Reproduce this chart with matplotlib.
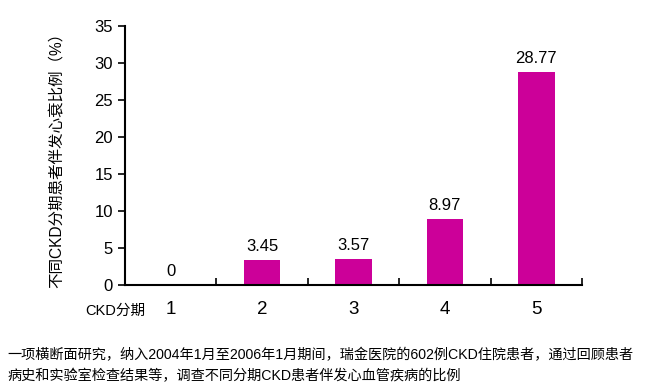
import numpy as np
import matplotlib.pyplot as plt

plt.rcParams['font.family'] = ['Liberation Sans', 'Noto Sans CJK SC', 'DejaVu Sans']

# 数据
stages = ['1', '2', '3', '4', '5']
ratio = [0, 3.45, 3.57, 8.97, 28.77]
value_labels = ['0', '3.45', '3.57', '8.97', '28.77']

fig = plt.figure(figsize=(6.54, 3.9), dpi=100)
ax = fig.add_axes([0.191, 0.269, 0.699, 0.664])

x = np.arange(len(stages))
ax.bar(x, ratio, width=0.4, color='#CC0099')
for xi, v, s in zip(x, ratio, value_labels):
    ax.text(xi, v + 0.8, s, ha='center', va='bottom', fontsize=12)

ax.set_xlim(-0.5, len(stages) - 0.5)
ax.set_ylim(0, 35)
ax.set_yticks(range(0, 36, 5))
ax.tick_params(axis='y', labelsize=12, direction='out', length=5, width=1.2)
ax.set_xticks(np.arange(-0.5, len(stages), 1))
ax.set_xticklabels([])
ax.tick_params(axis='x', direction='in', length=5, width=1.2)
for xi, s in zip(x, stages):
    ax.text(xi, -2.2, s, ha='center', va='top', fontsize=13.5)
ax.text(-0.28, -2.5, 'CKD分期', ha='right', va='top', fontsize=10.5)

ax.spines['top'].set_visible(False)
ax.spines['right'].set_visible(False)
ax.spines['left'].set_linewidth(1.5)
ax.spines['bottom'].set_linewidth(1.5)

fig.text(0.088, 0.60, '不同CKD分期患者伴发心衰比例（%）', rotation=90,
         ha='center', va='center', fontsize=11.2)

fig.text(0.012, 0.09, '一项横断面研究，纳入2004年1月至2006年1月期间，瑞金医院的602例CKD住院患者，通过回顾患者',
         fontsize=10.2, va='center')
fig.text(0.012, 0.035, '病史和实验室检查结果等，调查不同分期CKD患者伴发心血管疾病的比例',
         fontsize=10.2, va='center')

fig.savefig('out.png', dpi=100)
